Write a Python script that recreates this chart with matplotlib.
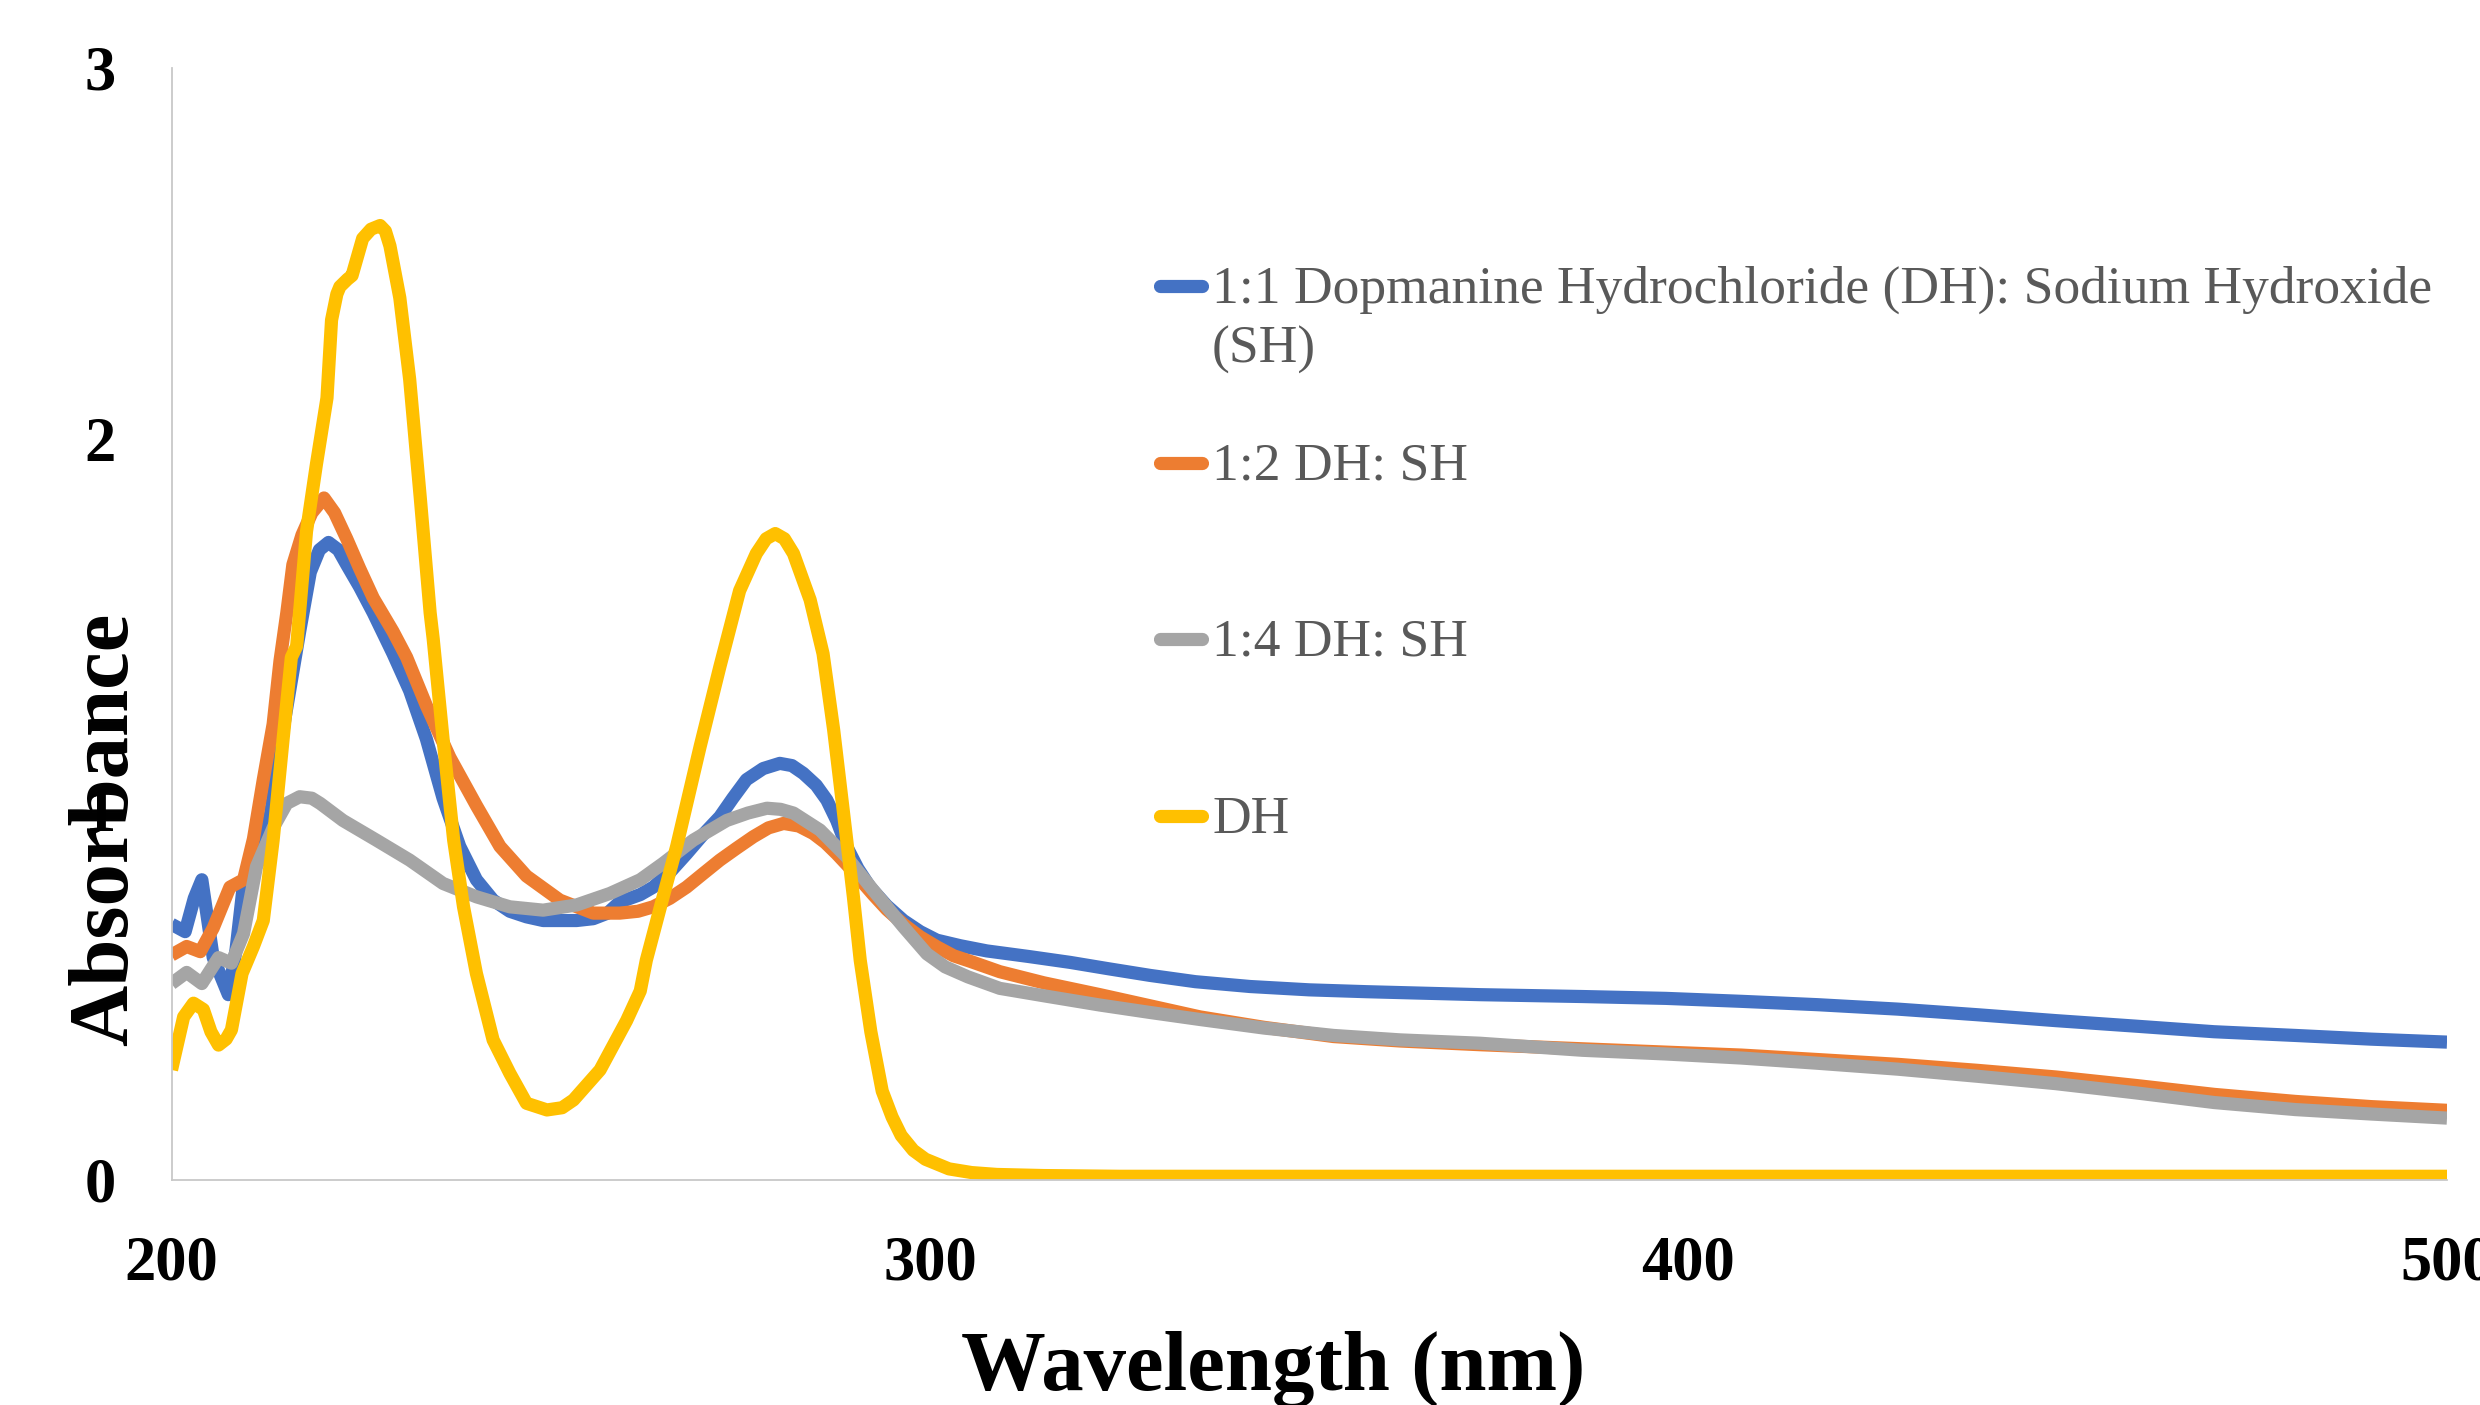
import matplotlib
matplotlib.use("Agg")
import matplotlib.pyplot as plt
from matplotlib.lines import Line2D

# ---------------- data ----------------
wl_11 = [200, 201.8, 203, 204, 205.5, 207.5, 208.5, 209.5, 211, 213, 215, 216.9, 218.3,
         219.5, 220.7, 222, 223.1, 224.8, 226.6, 229.2, 231.4, 233.6, 235.8, 238, 240.2,
         242.4, 244.6, 246.8, 249, 251.2, 253.4, 255.6, 257.5, 259.1, 261.8, 263.5, 265.7,
         267.9, 270, 272.3, 274, 275.8, 278, 280.2, 281.8, 283.3, 285, 286.4, 287.7, 289,
         290.5, 292.1, 294.3, 296.5, 298.7, 300.9, 304, 307.5, 313, 318.5, 323.5, 329, 335,
         342.2, 350, 357.6, 365, 372.5, 386, 397, 407, 417, 427.6, 438, 448.4, 459, 469.3,
         480, 490, 500]
ab_11 = [0.69, 0.67, 0.76, 0.81, 0.60, 0.50, 0.62, 0.80, 0.88, 0.98, 1.25, 1.48, 1.64,
         1.70, 1.72, 1.70, 1.66, 1.60, 1.53, 1.42, 1.32, 1.19, 1.03, 0.90, 0.81,
         0.755, 0.725, 0.71, 0.70, 0.70, 0.70, 0.705, 0.72, 0.75, 0.77, 0.79, 0.83,
         0.88, 0.93, 0.98, 1.03, 1.08, 1.11, 1.124, 1.118, 1.097, 1.065, 1.025, 0.97, 0.90,
         0.84, 0.79, 0.74, 0.70, 0.67, 0.647, 0.632, 0.618, 0.603, 0.587, 0.570, 0.552, 0.535,
         0.522, 0.513, 0.508, 0.504, 0.50, 0.495, 0.49, 0.482, 0.473, 0.461, 0.446, 0.43, 0.415, 0.40,
         0.39, 0.38, 0.372]

wl_12 = [200, 202, 203.8, 205.5, 207.7, 209.5, 210.8, 212.1, 213.4, 214.3, 215.2, 216,
         217.2, 218.5, 220.1, 221.5, 223.1, 224.8, 226.6, 229.2, 231, 233.6, 236.7, 240.2,
         243.3, 246.8, 251.2, 255.6, 259.1, 261.5, 263.5, 265.7, 267.9, 270, 272.3, 274.5,
         276.7, 278.7, 280.7, 282.7, 284.6, 286.2, 287.7, 289.3, 290.8, 292.5, 294.3, 296.5,
         298.7, 301, 303.1, 305.3, 309.2, 315, 322.4, 329, 335.6, 344, 353.2, 362, 372.5,
         386, 397, 407, 417, 427.6, 438, 448.4, 459, 469.3, 480, 490, 500]
ab_12 = [0.607, 0.63, 0.616, 0.68, 0.79, 0.81, 0.92, 1.08, 1.23, 1.40, 1.53, 1.66,
         1.74, 1.80, 1.84, 1.80, 1.73, 1.65, 1.57, 1.48, 1.41, 1.28, 1.14, 1.01,
         0.90, 0.82, 0.755, 0.72, 0.72, 0.725, 0.737, 0.76, 0.79, 0.825, 0.863, 0.895,
         0.926, 0.95, 0.962, 0.955, 0.935, 0.91, 0.88, 0.845, 0.81, 0.77, 0.73, 0.69,
         0.656, 0.628, 0.605, 0.59, 0.562, 0.532, 0.50, 0.47, 0.44, 0.412, 0.387, 0.375, 0.365,
         0.354, 0.345, 0.337, 0.325, 0.312, 0.296, 0.278, 0.255, 0.231, 0.212, 0.198, 0.188]

wl_14 = [200, 202, 204, 206.2, 207.9, 209.5, 211.2, 213.4, 215.2, 216.9, 218.5, 219.6,
         222.6, 227, 231.4, 235.8, 240.2, 244.6, 249, 253.4, 257.8, 261.8, 264.8, 268.8,
         273.2, 276, 278.5, 280.3, 282, 285.5, 289, 292.5, 296.5, 299.6, 302, 305, 309.2,
         315, 322.4, 329, 335.6, 344, 353.2, 362, 372.5, 386, 397, 407, 417, 427.6, 438,
         448.4, 459, 469.3, 480, 490, 500]
ab_14 = [0.53, 0.56, 0.53, 0.60, 0.585, 0.665, 0.845, 0.95, 1.016, 1.034, 1.03, 1.016,
         0.97, 0.917, 0.863, 0.80, 0.764, 0.737, 0.728, 0.742, 0.773, 0.81, 0.854, 0.917,
         0.97, 0.99, 1.003, 1.0, 0.99, 0.944, 0.872, 0.782, 0.683, 0.61, 0.575, 0.548, 0.517,
         0.497, 0.472, 0.452, 0.433, 0.41, 0.39, 0.378, 0.369, 0.35, 0.34, 0.329, 0.315, 0.299, 0.28,
         0.26, 0.235, 0.209, 0.19, 0.178, 0.167]

wl_dh = [200, 201.6, 202.9, 204.2, 205.2, 206.2, 207.2, 207.9, 209.3, 210.8, 212.1, 213.4,
         214.7, 215.8, 216.5, 217.8, 219.1, 220.5, 221.1, 221.8, 222.2, 223.2, 223.8, 224.5,
         225.2, 226.3, 227.5, 228.2, 228.8, 230.1, 231.4, 232.8, 234.1, 234.5, 235.8, 237.2,
         238.5, 240.2, 242.4, 244.6, 246.8, 249.5, 251.5, 253, 256.5, 260, 261.8, 262.6,
         264.5, 266.6, 269.7, 272.3, 274.9, 277.1, 278.4, 279.6, 280.8, 282, 284.2, 285.9,
         287.3, 288.6, 289.9, 290.8, 292.2, 293.7, 295, 296.2, 297.8, 299.4, 302.5, 305.5,
         308.8, 315, 325, 350, 400, 450, 500]
ab_dh = [0.297, 0.44, 0.477, 0.46, 0.40, 0.364, 0.38, 0.405, 0.557, 0.63, 0.70, 0.917,
         1.187, 1.41, 1.44, 1.75, 1.93, 2.11, 2.32, 2.39, 2.41, 2.43, 2.44, 2.49,
         2.54, 2.565, 2.575, 2.56, 2.52, 2.38, 2.16, 1.84, 1.53, 1.46, 1.19, 0.917,
         0.737, 0.557, 0.378, 0.288, 0.207, 0.189, 0.195, 0.216, 0.297, 0.43, 0.51, 0.593,
         0.74, 0.90, 1.17, 1.385, 1.59, 1.69, 1.73, 1.744, 1.73, 1.69, 1.565, 1.42,
         1.214, 0.99, 0.764, 0.593, 0.40, 0.24, 0.17, 0.12, 0.08, 0.056, 0.03, 0.02,
         0.015, 0.012, 0.01, 0.01, 0.01, 0.01, 0.01]

series_labels = [["1:1 Dopmanine Hydrochloride (DH): Sodium Hydroxide", "(SH)"],
                 ["1:2 DH: SH"], ["1:4 DH: SH"], ["DH"]]
series_colors = ["#4472C4", "#ED7D31", "#A5A5A5", "#FFC000"]
x_ticks = [200, 300, 400, 500]
y_ticks = [0, 1, 2, 3]
x_label = "Wavelength (nm)"
y_label = "Absorbance"

# ---------------- figure ----------------
W, H = 2480, 1405
fig = plt.figure(figsize=(W / 100, H / 100), dpi=100)
ax = fig.add_axes([171.5 / W, 1 - 1180 / H, (2447 - 171.5) / W, (1180 - 68) / H])

serif = ["Liberation Serif", "DejaVu Serif"]
lw = 9.5
data = [(wl_11, ab_11), (wl_12, ab_12), (wl_14, ab_14), (wl_dh, ab_dh)]
for (x, y), c in zip(data, series_colors):
    ax.plot(x, y, color=c, lw=lw, solid_joinstyle="round", solid_capstyle="butt")

ax.set_xlim(200, 500)
ax.set_ylim(0, 3)
ax.set_xticks(x_ticks)
ax.set_yticks(y_ticks)
ax.set_xticklabels([str(v) for v in x_ticks], fontfamily=serif, fontweight="bold", fontsize=45)
ax.set_yticklabels([str(v) for v in y_ticks], fontfamily=serif, fontweight="bold", fontsize=45)
ax.tick_params(axis="both", length=0, pad=40, colors="black")

for s in ["top", "right"]:
    ax.spines[s].set_visible(False)
for s in ["left", "bottom"]:
    ax.spines[s].set_color("#C8C8C8")
    ax.spines[s].set_linewidth(1.3)

ax.set_xlabel(x_label, fontfamily=serif, fontweight="bold", fontsize=61)
ax.xaxis.set_label_coords(0.484, -0.136)
ax.set_ylabel(y_label, fontfamily=serif, fontweight="bold", fontsize=61)
ax.yaxis.set_label_coords(-0.0116, 0.3156)

# ---------------- legend (drawn manually) ----------------
baselines = [303, 480, 656, 833]
line_step = 60
for lines, c, b in zip(series_labels, series_colors, baselines):
    hy = 1 - (b - 17) / H
    fig.add_artist(Line2D([1159.5 / W, 1201.5 / W], [hy, hy], transform=fig.transFigure,
                          color=c, lw=9.5, solid_capstyle="round"))
    for i, txt in enumerate(lines):
        fig.text(1212 / W, 1 - (b + i * line_step) / H, txt, fontfamily=serif, fontsize=38.5,
                 color="#595959", ha="left", va="baseline")

fig.savefig("out.png", dpi=100)
